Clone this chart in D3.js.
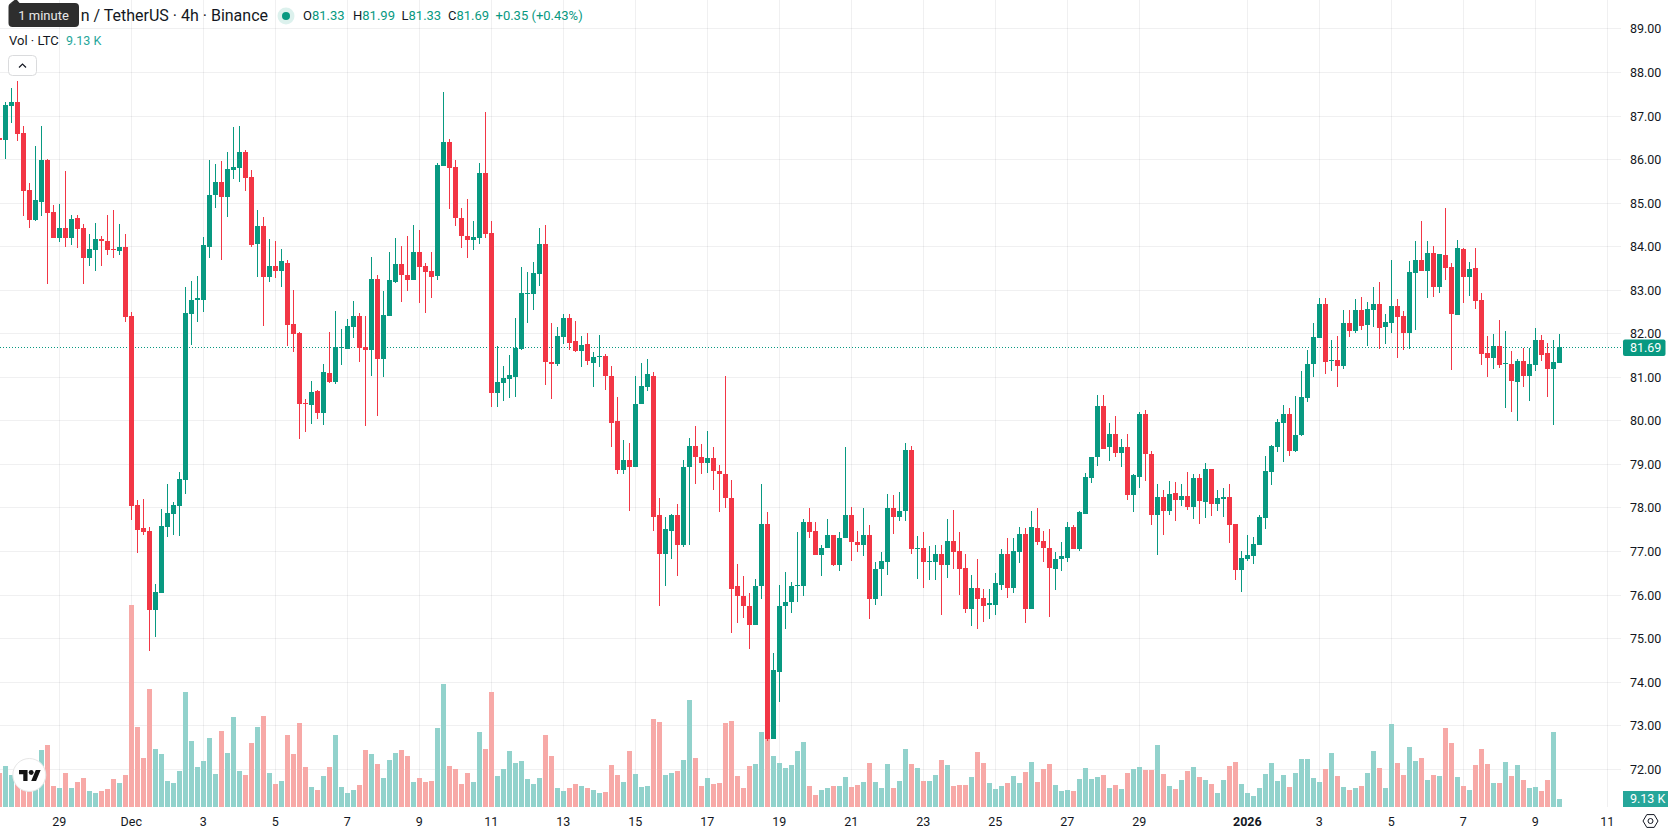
<!DOCTYPE html>
<html>
<head>
<meta charset="utf-8">
<title>Litecoin / TetherUS 4h</title>
<script src="https://cdn.jsdelivr.net/npm/d3@7/dist/d3.min.js"></script>
<style>
  html, body { margin: 0; padding: 0; background: #fff; overflow: hidden; }
  svg { display: block; }
  text { font-family: Roboto, "Noto Sans", sans-serif; }
</style>
</head>
<body>
<div id="chart"></div>
<script>
// LTC/USDT 4-hour candles, oldest first. First candle opens 27 Nov 2025 08:00 UTC.
const firstCandle = Date.UTC(2025, 10, 27, 8);
const candleMs = 4 * 3600 * 1000;

const opens = [
  86.50,86.44,87.23,87.33,86.61,85.31,84.62,85.03,85.99,84.80,
  84.21,84.43,84.21,84.66,84.43,83.73,83.93,84.18,84.13,83.95,
  83.91,84.00,82.40,78.07,77.54,77.47,75.66,76.05,77.57,77.86,
  78.04,78.64,82.46,82.78,82.78,84.00,85.19,85.49,85.15,85.77,
  85.81,86.18,85.60,84.05,84.48,83.31,83.56,83.43,83.63,82.23,
  82.02,80.41,80.37,80.69,80.19,81.10,80.90,81.68,81.66,82.16,
  82.41,81.70,81.63,83.26,81.43,82.41,83.19,83.61,83.36,83.24,
  83.88,83.56,83.45,83.33,85.86,86.41,85.84,84.66,84.25,84.16,
  84.21,85.68,84.32,80.64,80.87,80.97,81.01,81.66,82.92,82.92,
  83.38,84.07,81.36,81.31,81.93,82.37,81.84,81.61,81.77,81.34,
  81.46,81.48,81.04,79.99,78.88,79.11,78.93,80.38,80.77,81.04,
  77.83,76.95,77.48,77.85,77.14,78.93,79.43,79.18,79.04,79.14,
  78.86,78.79,78.22,76.20,75.99,75.76,75.32,76.20,77.64,72.70,
  74.24,75.74,75.83,76.22,76.20,77.67,77.48,76.91,77.07,77.37,
  76.68,77.30,77.83,77.21,77.14,77.39,75.92,76.59,76.77,78.01,
  77.80,77.92,79.34,77.05,77.07,76.77,76.77,76.95,76.68,77.25,
  77.02,76.63,75.67,76.17,75.94,75.78,75.78,76.24,76.95,76.17,
  77.00,77.41,75.69,77.55,77.25,77.09,76.61,76.82,76.86,77.57,
  77.05,77.87,78.68,79.16,80.35,79.39,79.69,79.27,79.41,78.29,
  78.72,80.15,79.25,77.85,78.26,77.94,78.35,78.19,78.28,78.03,
  78.69,78.14,78.90,78.10,78.21,78.26,77.64,76.58,76.83,76.90,
  77.15,77.77,78.83,79.40,79.95,80.16,79.31,79.68,80.53,81.31,
  81.91,82.69,81.38,81.40,81.26,82.25,82.07,82.55,82.20,82.55,
  82.69,82.16,82.25,82.64,82.41,82.02,83.40,83.70,83.44,83.86,
  83.08,83.81,83.54,82.43,83.95,83.31,83.51,82.78,81.56,81.44,
  81.72,81.30,81.30,80.89,81.37,81.03,81.28,81.86,81.56,81.19,
  81.33
];

const highs = [
  86.50,87.32,87.64,87.81,86.77,85.46,86.31,86.78,86.01,84.95,
  84.98,85.74,84.73,84.73,84.53,84.28,84.55,84.25,84.73,84.85,
  84.53,84.28,82.51,78.18,78.20,77.57,76.25,77.97,78.55,78.13,
  78.82,83.08,83.22,83.33,84.23,85.99,85.90,85.97,86.18,86.75,
  86.78,86.23,85.76,84.85,84.68,84.18,84.13,83.95,83.70,83.01,
  82.05,80.51,80.92,80.71,81.31,82.05,82.53,82.11,82.34,82.76,
  82.48,82.41,83.77,83.36,82.99,83.88,84.21,84.02,84.25,84.50,
  84.39,83.63,83.88,85.93,87.56,86.48,86.00,84.89,85.10,84.60,
  85.93,87.10,84.60,81.72,81.26,81.52,82.37,83.54,83.42,83.65,
  84.43,84.50,82.25,82.16,82.46,82.46,82.30,81.95,82.02,81.59,
  81.98,81.53,81.25,80.54,79.55,79.50,81.02,81.32,81.41,81.13,
  78.24,77.80,77.87,78.08,79.11,79.60,79.89,79.46,79.76,79.41,
  78.98,81.04,78.65,76.72,76.43,76.04,76.38,78.56,77.90,74.68,
  76.24,76.54,76.29,77.44,77.74,78.01,77.67,77.16,77.74,77.37,
  77.44,79.41,78.03,77.48,77.99,77.60,76.77,77.00,78.31,78.29,
  78.36,79.50,79.43,77.35,77.46,77.12,77.16,77.14,77.74,77.96,
  77.44,76.95,76.47,76.84,76.15,76.15,76.50,77.05,77.32,77.32,
  77.57,77.55,77.92,78.01,77.48,77.51,76.98,77.23,77.67,77.62,
  77.92,78.81,79.18,80.60,80.60,79.96,80.12,79.59,79.71,78.77,
  80.21,80.26,79.30,78.54,78.42,78.61,78.60,78.55,78.83,78.78,
  78.78,79.04,78.90,78.42,78.46,78.55,77.64,77.02,77.38,77.34,
  77.84,79.20,79.45,80.05,80.37,80.30,80.57,81.15,81.63,82.25,
  82.82,82.82,81.86,81.95,82.55,82.55,82.80,82.85,82.73,83.08,
  83.19,82.46,83.70,82.80,82.52,83.67,84.13,84.59,84.13,84.02,
  83.83,84.89,83.63,84.16,83.97,83.65,83.97,82.94,81.95,81.99,
  82.32,82.06,81.60,81.42,81.67,81.67,82.13,81.97,81.79,81.86,
  81.99
];

const lows = [
  86.40,86.01,86.84,86.43,84.71,84.43,84.60,84.71,83.15,84.21,
  84.11,84.00,84.03,83.98,83.15,83.56,83.43,83.56,83.80,83.75,
  83.80,82.28,77.72,76.97,77.39,74.71,75.04,76.05,77.33,77.39,
  77.35,78.32,81.75,82.26,82.51,83.75,84.89,83.70,84.68,85.55,
  85.49,85.28,84.00,83.31,82.17,83.20,83.29,83.08,81.73,81.57,
  79.59,79.75,79.93,80.05,79.91,80.87,80.85,81.29,81.66,81.91,
  81.36,79.89,81.04,80.12,81.01,82.41,83.17,82.74,82.99,83.24,
  82.71,82.48,82.83,83.24,85.86,84.87,84.48,83.98,83.75,83.93,
  84.07,84.21,80.32,80.32,80.46,80.53,80.55,81.63,82.25,82.55,
  83.10,80.83,80.51,81.26,81.77,81.63,81.59,81.24,81.29,80.77,
  81.23,80.70,79.39,78.77,78.79,77.94,78.93,80.38,80.68,77.48,
  75.74,76.20,76.82,76.43,77.11,77.16,78.56,78.77,78.81,78.42,
  77.90,78.01,75.14,75.35,75.48,74.77,75.32,75.92,72.64,72.70,
  73.55,75.23,75.60,75.85,75.99,77.32,76.91,76.43,77.07,76.66,
  76.56,77.30,76.79,76.98,76.89,75.44,75.78,75.97,76.45,77.41,
  77.69,77.69,76.95,76.36,76.17,76.34,76.34,75.55,76.40,76.61,
  76.01,75.58,75.30,75.23,75.39,75.44,75.55,76.11,75.94,76.04,
  76.73,75.37,75.69,77.16,76.77,75.49,76.11,76.56,76.77,77.05,
  77.02,77.87,78.58,78.97,79.36,79.09,79.18,78.93,78.19,77.90,
  78.47,78.63,77.62,76.93,77.39,77.85,77.71,78.05,77.96,77.75,
  77.64,77.77,77.82,77.93,77.80,77.20,76.35,76.08,76.79,76.72,
  77.15,77.52,78.53,79.29,79.06,79.20,79.29,79.66,80.44,81.01,
  81.91,81.08,81.15,80.78,81.19,81.93,82.02,82.09,81.72,82.16,
  81.65,81.77,82.02,81.44,81.63,81.65,82.09,83.44,82.82,82.85,
  82.94,83.24,81.17,82.43,82.71,82.87,82.57,81.28,81.00,81.19,
  81.21,80.29,80.20,79.99,80.77,80.45,81.14,81.37,80.54,79.90,
  81.33
];

const closes = [
  86.44,87.25,87.33,86.59,85.28,84.62,85.08,85.99,84.78,84.21,
  84.43,84.21,84.64,84.41,83.73,83.95,84.18,84.12,83.93,83.93,
  84.00,82.38,78.04,77.49,77.44,75.66,76.07,77.59,77.88,78.07,
  78.67,82.48,82.78,82.81,84.03,85.19,85.49,85.15,85.78,85.83,
  86.18,85.58,84.03,84.48,83.31,83.56,83.43,83.66,82.21,82.00,
  80.39,80.39,80.67,80.19,81.13,80.90,81.70,81.70,82.18,82.41,
  81.68,81.63,83.26,81.43,82.44,83.24,83.61,83.36,83.24,83.88,
  83.54,83.42,83.31,85.88,86.41,85.81,84.66,84.25,84.16,84.23,
  85.68,84.30,80.64,80.90,80.99,81.06,81.68,82.94,82.94,83.40,
  84.07,81.36,81.31,81.95,82.37,81.79,81.61,81.75,81.38,81.46,
  81.48,81.02,79.96,78.88,79.11,78.93,80.38,80.79,81.07,77.80,
  76.95,77.51,77.85,77.14,78.95,79.43,79.16,79.04,79.14,78.86,
  78.77,78.22,76.15,75.97,75.76,75.32,76.22,77.64,72.70,74.27,
  75.76,75.85,76.22,76.24,77.67,77.46,76.91,77.09,77.37,76.68,
  77.30,77.83,77.21,77.16,77.39,75.92,76.61,76.79,78.01,77.80,
  77.94,79.32,77.05,77.07,76.77,76.79,76.95,76.68,77.25,77.00,
  76.61,75.67,76.17,75.92,75.76,75.81,76.27,76.95,76.17,77.02,
  77.41,75.69,77.57,77.23,77.09,76.63,76.84,76.89,77.57,77.05,
  77.90,78.70,79.18,80.35,79.36,79.69,79.27,79.41,78.29,78.75,
  80.15,79.23,77.85,78.26,77.94,78.33,78.19,78.28,78.03,78.69,
  78.16,78.90,78.10,78.23,78.26,77.61,76.58,76.86,76.92,77.18,
  77.80,78.85,79.43,79.98,80.16,79.31,79.68,80.55,81.31,81.93,
  82.69,81.35,81.40,81.26,82.25,82.07,82.55,82.18,82.57,82.69,
  82.14,82.27,82.64,82.38,82.02,83.42,83.70,83.44,83.86,83.08,
  83.83,83.51,82.45,83.97,83.31,83.49,82.75,81.53,81.44,81.72,
  81.28,81.33,80.91,81.37,81.03,81.30,81.86,81.51,81.19,81.35,
  81.69
];

// Traded volume per candle, in thousands of LTC.
const volumes = [
  38.8,46.8,36.5,30.4,30.4,20.9,22.8,65.0,70.8,24.0,
  21.7,38.8,21.7,28.5,33.1,18.3,16.0,18.3,20.5,32.0,
  27.4,36.5,230.5,91.3,55.9,134.7,66.2,60.5,29.7,27.4,
  41.1,131.2,75.3,45.6,52.5,78.7,37.7,86.7,61.6,102.7,
  41.1,36.5,73.0,91.3,103.8,38.8,26.2,29.7,82.2,60.5,
  95.9,45.6,22.8,19.4,35.4,45.6,82.2,22.8,16.0,19.4,
  25.1,65.0,60.5,49.1,33.1,53.6,61.6,65.0,58.2,28.5,
  33.1,28.5,29.7,90.2,140.4,46.8,43.4,26.2,38.8,28.5,
  85.6,66.2,131.2,35.4,43.4,63.9,50.2,52.5,32.0,26.2,
  33.1,82.2,58.2,21.7,18.3,21.7,26.2,24.0,21.7,19.4,
  16.0,17.1,47.9,36.5,28.5,63.9,37.7,22.8,24.0,100.4,
  97.0,36.5,38.8,41.1,53.6,122.1,55.9,24.0,33.1,26.2,
  27.4,95.9,98.1,35.4,21.7,46.8,49.1,85.6,87.5,58.2,
  50.2,44.5,47.9,63.9,74.2,24.0,13.7,19.4,21.7,24.0,
  24.0,34.2,22.8,25.1,28.5,50.2,28.5,21.7,49.1,21.7,
  29.7,66.2,49.1,44.5,29.7,29.7,36.5,53.6,47.9,24.0,
  25.1,25.1,34.2,62.8,50.2,27.4,20.5,24.0,27.4,35.4,
  27.4,39.9,51.4,28.5,43.4,49.1,25.1,18.3,19.4,18.3,
  32.0,44.5,32.0,34.2,36.5,21.7,25.1,20.5,38.8,43.4,
  45.6,42.2,42.2,70.8,37.7,24.0,20.5,30.8,41.1,45.6,
  34.2,30.8,26.2,16.0,30.8,46.8,51.4,26.2,16.0,12.6,
  21.7,37.7,50.2,29.7,36.5,22.8,38.8,54.8,54.8,33.1,
  28.5,43.4,61.6,35.4,22.8,19.4,21.7,24.0,38.8,63.9,
  44.5,21.7,94.7,50.2,36.5,68.5,52.5,55.9,30.8,36.5,
  35.4,90.2,73.0,34.2,24.0,19.4,47.9,66.2,49.1,27.4,
  27.4,51.4,35.4,47.9,30.8,21.7,22.8,18.3,30.8,85.6,
  9.13
];

const priceTicks = [72,73,74,75,76,77,78,79,80,81,82,83,84,85,86,87,88,89];
const timeTickDates = [
  "2025-11-29","2025-12-01","2025-12-03","2025-12-05","2025-12-07","2025-12-09","2025-12-11",
  "2025-12-13","2025-12-15","2025-12-17","2025-12-19","2025-12-21","2025-12-23","2025-12-25",
  "2025-12-27","2025-12-29","2026-01-01","2026-01-03","2026-01-05","2026-01-07","2026-01-09","2026-01-11"
];
const timeTickLabels = ["29","Dec","3","5","7","9","11","13","15","17","19","21","23","25","27","29","2026","3","5","7","9","11"];
const lastPrice = 81.69;
const lastVolumeLabel = "9.13 K";
const legendValues = [["O","81.33"],["H","81.99"],["L","81.33"],["C","81.69"]];
const legendChange = "+0.35 (+0.43%)";

const UP = "#089981", DOWN = "#F23645";
const VOL_UP = "#92D2CC", VOL_DOWN = "#F7A9A7", VOL_BADGE = "#26A69A";
const INK = "#131722", GRID = "rgba(42,46,57,0.07)";

const W = 1678, H = 835, paneRight = 1621, paneBottom = 807;
const candles = opens.map((o, i) => ({
  t: new Date(firstCandle + i * candleMs), o, h: highs[i], l: lows[i], c: closes[i], v: volumes[i]
}));

const x = d3.scaleUtc()
  .domain([new Date(Date.UTC(2025, 11, 1)), new Date(Date.UTC(2026, 0, 11))])
  .range([131.5, 1607.5]);
const y = d3.scaleLinear().domain([72, 89]).range([769.3, 28.9]);
const yVol = d3.scaleLinear().domain([0, 230.5]).range([paneBottom, 605]);
const rowCentre = v => Math.floor(y(v)) + 0.5;

const svg = d3.select("#chart").append("svg").attr("width", W).attr("height", H);
svg.append("rect").attr("width", W).attr("height", H).attr("fill", "#fff");

// grid
const tickTimes = timeTickDates.map(d => new Date(d + "T00:00:00Z"));
const grid = svg.append("g").attr("shape-rendering", "crispEdges").attr("stroke", GRID);
grid.selectAll(".h").data(priceTicks).join("line")
  .attr("x1", 0).attr("x2", paneRight)
  .attr("y1", rowCentre).attr("y2", rowCentre);
grid.selectAll(".v").data(tickTimes).join("line")
  .attr("x1", d => x(d)).attr("x2", d => x(d))
  .attr("y1", 0).attr("y2", paneBottom);

// last price line
const lastY = rowCentre(lastPrice);
svg.append("line")
  .attr("x1", 0).attr("x2", 1623)
  .attr("y1", lastY).attr("y2", lastY)
  .attr("stroke", UP).attr("stroke-dasharray", "1 2").attr("shape-rendering", "crispEdges");

// volume bars
svg.append("g").attr("shape-rendering", "crispEdges")
  .selectAll("rect").data(candles).join("rect")
  .attr("x", d => x(d.t) - 2.5)
  .attr("width", 5)
  .attr("y", d => Math.round(yVol(d.v)))
  .attr("height", d => paneBottom - Math.round(yVol(d.v)))
  .attr("fill", d => d.c >= d.o ? VOL_UP : VOL_DOWN);

// candles: wick then body
const candleG = svg.append("g").attr("shape-rendering", "crispEdges");
candleG.selectAll(".wick").data(candles).join("rect")
  .attr("x", d => x(d.t) - 0.5)
  .attr("width", 1)
  .attr("y", d => Math.round(y(d.h)))
  .attr("height", d => Math.max(1, Math.round(y(d.l)) - Math.round(y(d.h))))
  .attr("fill", d => d.c >= d.o ? UP : DOWN);
candleG.selectAll(".body").data(candles).join("rect")
  .attr("x", d => x(d.t) - 2.5)
  .attr("width", 5)
  .attr("y", d => Math.round(y(Math.max(d.o, d.c))))
  .attr("height", d => Math.max(1, Math.round(y(Math.min(d.o, d.c))) - Math.round(y(Math.max(d.o, d.c)))))
  .attr("fill", d => d.c >= d.o ? UP : DOWN);

// price axis
const priceAxis = d3.axisRight(y).tickValues(priceTicks).tickFormat(d3.format(".2f")).tickSize(0).tickPadding(0);
const pa = svg.append("g").attr("transform", "translate(1630,0)").call(priceAxis);
pa.select(".domain").remove();
pa.selectAll("text").attr("font-size", 12.5).attr("fill", INK);

// time axis
const labelByTime = new Map(tickTimes.map((t, i) => [+t, timeTickLabels[i]]));
const timeAxis = d3.axisBottom(x).tickValues(tickTimes).tickFormat(d => labelByTime.get(+d)).tickSize(0).tickPadding(0);
const ta = svg.append("g").attr("transform", "translate(-0.7,817)").call(timeAxis);
ta.select(".domain").remove();
ta.selectAll("text").attr("font-size", 12.5).attr("fill", INK)
  .attr("font-weight", d => labelByTime.get(+d) === "2026" ? 700 : 400);

// price badges
svg.append("rect").attr("x", 1623).attr("y", lastY - 8).attr("width", 42.5).attr("height", 16.5).attr("rx", 2).attr("fill", UP);
svg.append("text").attr("x", 1630).attr("y", lastY).attr("dy", "0.32em").attr("font-size", 12.5).attr("fill", "#fff")
  .text(d3.format(".2f")(lastPrice));
svg.append("rect").attr("x", 1623).attr("y", 791).attr("width", 45).attr("height", 16).attr("fill", VOL_BADGE);
svg.append("text").attr("x", 1630).attr("y", 799).attr("dy", "0.32em").attr("font-size", 12.5).attr("fill", "#fff")
  .text(lastVolumeLabel);

// settings hexagon in the corner
const gear = svg.append("g").attr("transform", "translate(1650.5,821)").attr("fill", "none").attr("stroke", INK);
gear.append("path").attr("d", "M-7.5 0L-3.7 -6.4H3.7L7.5 0L3.7 6.4H-3.7Z");
gear.append("circle").attr("r", 2.5);

// legend
svg.append("text").attr("x", 268).attr("y", 16).attr("dy", "0.34em").attr("text-anchor", "end")
  .attr("font-size", 16).attr("fill", INK).text("n / TetherUS · 4h · Binance");
svg.append("circle").attr("cx", 286).attr("cy", 16).attr("r", 8.5).attr("fill", UP).attr("fill-opacity", 0.14);
svg.append("circle").attr("cx", 286).attr("cy", 16).attr("r", 4).attr("fill", UP);

const legendX = [303, 353, 401.5, 448];
legendValues.forEach(([k, v], i) => {
  const t = svg.append("text").attr("x", legendX[i]).attr("y", 16).attr("dy", "0.34em").attr("font-size", 13);
  t.append("tspan").attr("fill", INK).text(k);
  t.append("tspan").attr("fill", UP).text(v);
});
svg.append("text").attr("x", 495.5).attr("y", 16).attr("dy", "0.34em").attr("font-size", 13).attr("fill", UP).text(legendChange);

svg.append("text").attr("x", 9).attr("y", 40.5).attr("dy", "0.34em").attr("font-size", 13).attr("fill", INK).text("Vol · LTC");
svg.append("text").attr("x", 66).attr("y", 40.5).attr("dy", "0.34em").attr("font-size", 12.5).attr("fill", VOL_BADGE).text(lastVolumeLabel);

// collapse button
svg.append("rect").attr("x", 8.5).attr("y", 55.5).attr("width", 28).attr("height", 20).attr("rx", 4)
  .attr("fill", "#fff").attr("stroke", "#DADBDD");
svg.append("path").attr("d", "M19 67.5L22.5 64L26 67.5").attr("fill", "none").attr("stroke", INK).attr("stroke-width", 1.2);

// tooltip
svg.append("path").attr("d", "M10 3.5L14.5 0H17L20 3.5Z").attr("fill", "#2E2E2E");
svg.append("rect").attr("x", 8.5).attr("y", 3).attr("width", 70.5).attr("height", 24).attr("rx", 4).attr("fill", "#2E2E2E");
svg.append("text").attr("x", 43.5).attr("y", 15.5).attr("dy", "0.34em").attr("text-anchor", "middle")
  .attr("font-size", 13).attr("fill", "#E8E8E8").text("1 minute");

// attribution badge
const badge = svg.append("g");
badge.append("circle").attr("cx", 29.3).attr("cy", 775).attr("r", 16.5).attr("fill", "#fff").attr("stroke", "#E6E6E6");
const mark = badge.append("g").attr("transform", "translate(19,767.6) scale(0.61)").attr("fill", "#131313");
mark.append("path").attr("d", "M14 22H7V11H0V4h14v18zM28 22h-8l7.5-18h8L28 22z");
mark.append("circle").attr("cx", 20).attr("cy", 8).attr("r", 4);
</script>
</body>
</html>
